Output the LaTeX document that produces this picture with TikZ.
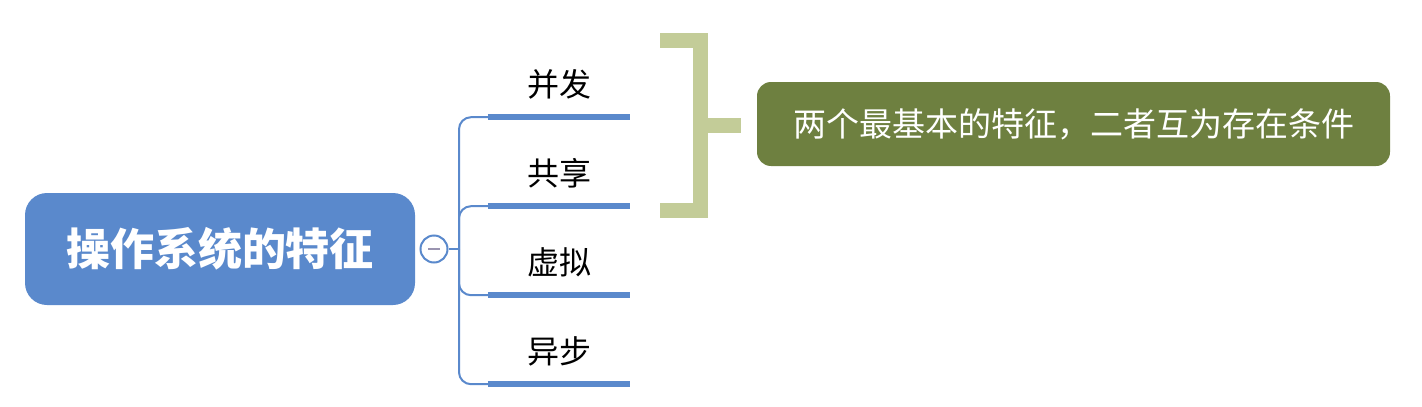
\documentclass[tikz,border=0pt]{standalone}
\usepackage{fontspec}
\newfontfamily\cjk{Noto Sans CJK SC}
\usetikzlibrary{positioning}

\definecolor{topicblue}{HTML}{5A89CC}
\definecolor{bracketgreen}{HTML}{C3CC98}
\definecolor{notegreen}{HTML}{6E8040}
\definecolor{minusgray}{HTML}{9A94B0}

\begin{document}
\begin{tikzpicture}[x=1pt, y=-1pt, font=\cjk,
    root/.style={rectangle, rounded corners=22pt, fill=topicblue, text=white,
                 minimum width=390pt, minimum height=112pt,
                 font=\cjk\bfseries\fontsize{44}{44}\selectfont},
    fold/.style={circle, draw=topicblue, line width=2pt, fill=white,
                 minimum size=27pt, inner sep=0pt},
    leaf/.style={minimum width=142pt, minimum height=66pt, inner sep=0pt,
                 font=\cjk\fontsize{32}{32}\selectfont},
    under/.style={draw=topicblue, line width=6pt},
    conn/.style={draw=topicblue, line width=2pt, rounded corners=12pt},
    bracket/.style={draw=bracketgreen, line width=15pt, miter limit=10},
    note/.style={rectangle, rounded corners=14pt, fill=notegreen, text=white,
                 minimum width=633pt, minimum height=84pt,
                 font=\cjk\fontsize{33}{33}\selectfont}]

  \useasboundingbox (0,0) rectangle (1422,407);

  \node[root] (root) at (220,249) {操作系统的特征};
  \node[fold] (fold) at (434,249) {};
  \draw[minusgray, line width=2.5pt] (fold.center) ++(-6,0) -- ++(12,0);
  \coordinate (trunk) at (459,249);

  % branches
  \node[leaf] (b1) at (559,84) {并发};
  \node[leaf] (b2) at (559,173) {共享};
  \node[leaf] (b3) at (559,262) {虚拟};
  \node[leaf] (b4) at (559,351) {异步};

  \draw[conn] (fold) -- (trunk);
  \foreach \i in {1,...,4} {
    \draw[conn] (trunk) |- ([xshift=1pt]b\i.south west);
    \draw[under] (b\i.south west) -- (b\i.south east);
  }

  % summary bracket
  \coordinate (top) at (660,40.5);
  \coordinate (bot) at (660,210.5);
  \coordinate (mid) at (700,125);
  \coordinate (tab) at (741,125);
  \draw[bracket] (top) -| (mid) |- (bot);
  \draw[bracket] (mid) -- (tab);

  \node[note] (note) at (1073.5,124) {两个最基本的特征，二者互为存在条件};
\end{tikzpicture}
\end{document}
